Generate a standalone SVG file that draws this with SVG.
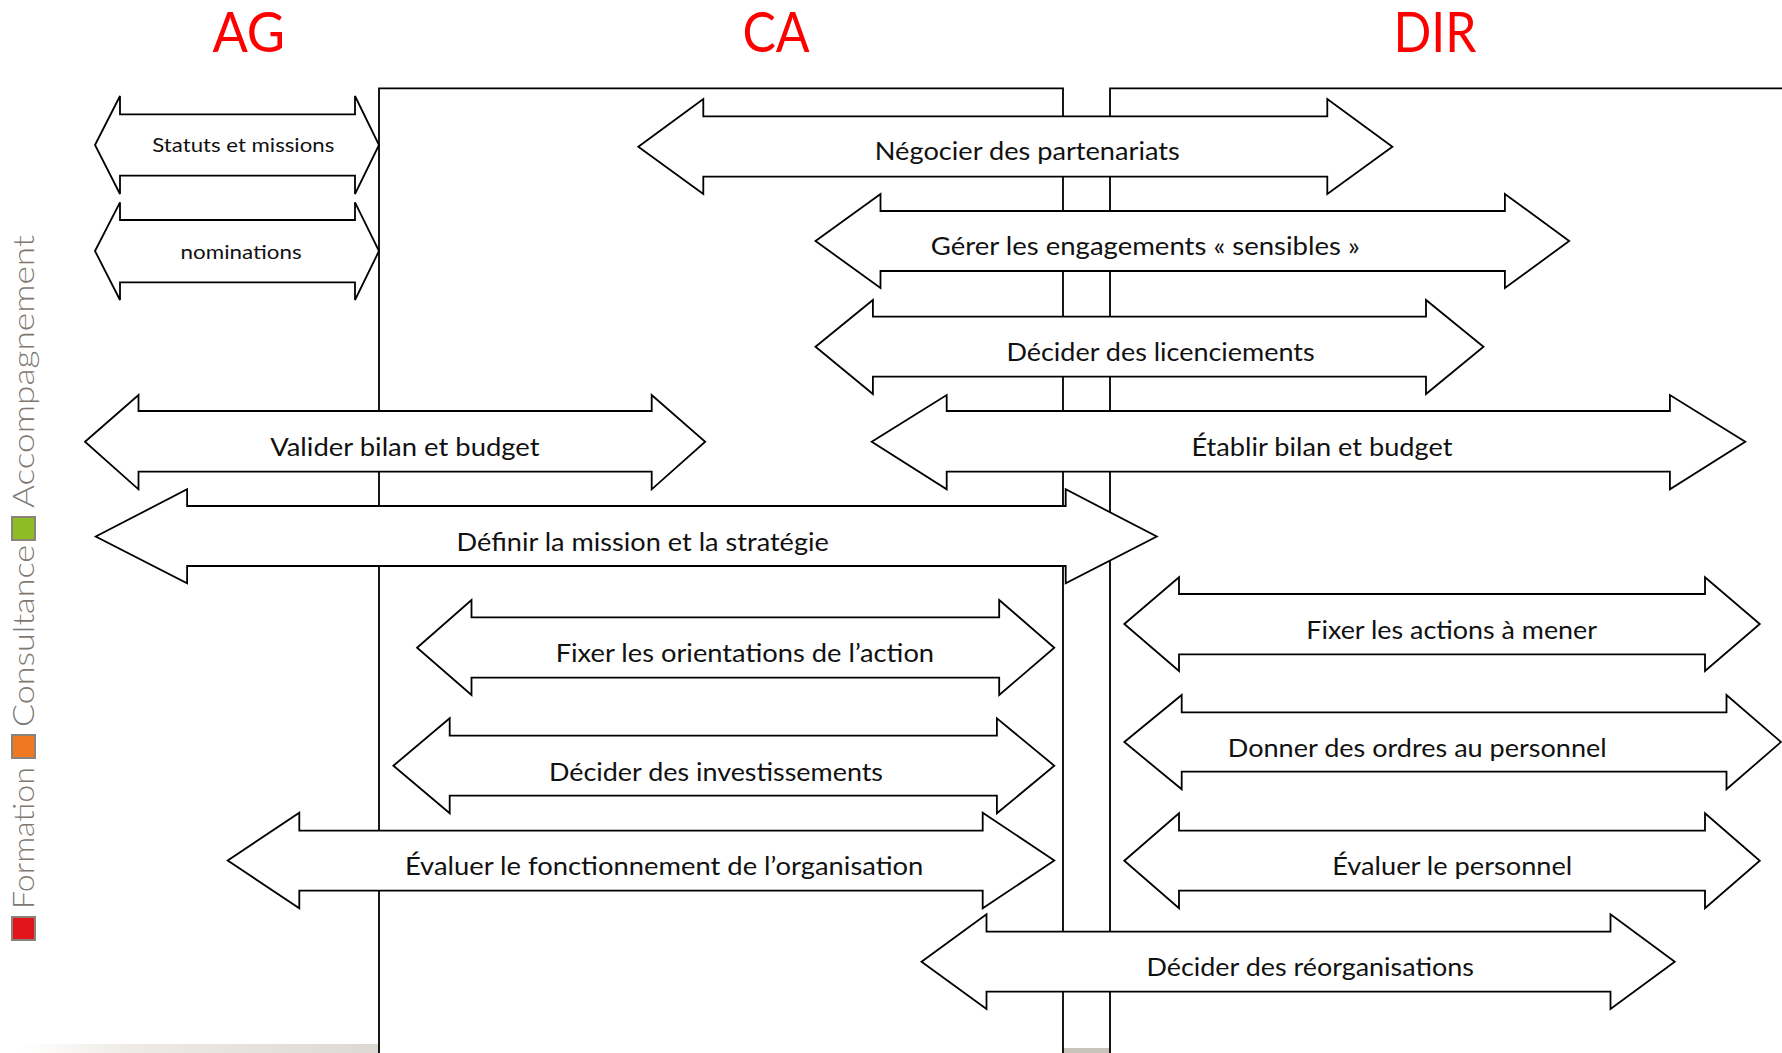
<svg xmlns="http://www.w3.org/2000/svg" width="1782" height="1053" viewBox="0 0 1782 1053">
  <defs>
    <style>
      .lane { stroke: #000; stroke-width: 1.8; fill: none; }
      .arrow { fill: #fff; stroke: #000; stroke-width: 1.8; stroke-linejoin: miter; }
      .lbl { font-family: Lato, "Open Sans", "Liberation Sans", sans-serif; font-size: 25px; fill: #111; }
      .lbl-s { font-family: Lato, "Open Sans", "Liberation Sans", sans-serif; font-size: 20px; fill: #111; }
      .head { font-family: Lato, "Open Sans", "Liberation Sans", sans-serif; font-size: 56px; fill: #ff0000; }
      .leg { font-family: Lato, "Noto Sans", "Liberation Sans", sans-serif; font-weight: 300; font-size: 29px; fill: #7d7873; }
      .sq { stroke: #8a837c; stroke-width: 2; }
    </style>
    <linearGradient id="shadeL" x1="0" y1="0" x2="1" y2="0">
      <stop offset="0" stop-color="#ffffff"/>
      <stop offset="0.3" stop-color="#eeebe6"/>
      <stop offset="1" stop-color="#dcd8d3"/>
    </linearGradient>
  </defs>
  <rect x="0" y="0" width="1782" height="1053" fill="#fff"/>

  <!-- bottom shading -->
  <rect x="20" y="1044" width="359" height="9" fill="url(#shadeL)"/>
  <rect x="1063" y="1048" width="47" height="5" fill="#c9c2ba"/>

  <!-- headings -->
  <g id="headings">
    <text class="head" x="212.4" y="51.7" textLength="72.7" lengthAdjust="spacingAndGlyphs">AG</text>
    <text class="head" x="742.4" y="51.7" textLength="67.3" lengthAdjust="spacingAndGlyphs">CA</text>
    <text class="head" x="1393.5" y="51.7" textLength="83" lengthAdjust="spacingAndGlyphs">DIR</text>
  </g>

  <!-- lanes (frame lines) -->
  <g id="lanes">
    <polyline class="lane" points="379,1053 379,88.3 1063,88.3 1063,1053"/>
    <polyline class="lane" points="1110,1053 1110,88.3 1782,88.3"/>
  </g>

  <!-- legend -->
  <g id="legend" transform="translate(0,941) rotate(-90)">
    <rect class="sq" x="1" y="12" width="23" height="23" fill="#e3141c"/>
    <text class="leg" x="32" y="34" textLength="142" lengthAdjust="spacingAndGlyphs">Formation</text>
    <rect class="sq" x="183" y="12" width="23" height="23" fill="#f07820"/>
    <text class="leg" x="214" y="34" textLength="182" lengthAdjust="spacingAndGlyphs">Consultance</text>
    <rect class="sq" x="401" y="12" width="23" height="23" fill="#8cbe23"/>
    <text class="leg" x="433" y="34" textLength="273" lengthAdjust="spacingAndGlyphs">Accompagnement</text>
  </g>

  <!-- arrows -->
  <g id="statuts">
    <polygon class="arrow" points="95,145 120,96 120,114.3 355,114.3 355,96 379,145 355,194 355,175.7 120,175.7 120,194"/>
    <text class="lbl-s" x="152.3" y="151.7" textLength="182" lengthAdjust="spacingAndGlyphs">Statuts et missions</text>
  </g>
  <g id="nominations">
    <polygon class="arrow" points="95,251 120,202.3 120,220 355,220 355,202.3 379,251 355,300 355,282.3 120,282.3 120,300"/>
    <text class="lbl-s" x="180.6" y="259.3" textLength="121" lengthAdjust="spacingAndGlyphs">nominations</text>
  </g>
  <g id="negocier">
    <polygon class="arrow" points="638.3,146.7 703.3,99 703.3,116.3 1327.3,116.3 1327.3,99 1392.4,146.7 1327.3,194 1327.3,176.7 703.3,176.7 703.3,194"/>
    <text class="lbl" x="874.8" y="160" textLength="305" lengthAdjust="spacingAndGlyphs">Négocier des partenariats</text>
  </g>
  <g id="gerer">
    <polygon class="arrow" points="815.5,241 880.5,194 880.5,211 1504.9,211 1504.9,194 1569.2,241 1504.9,288 1504.9,271 880.5,271 880.5,288"/>
    <text class="lbl" x="930.7" y="255" textLength="429.2" lengthAdjust="spacingAndGlyphs">Gérer les engagements « sensibles »</text>
  </g>
  <g id="licenciements">
    <polygon class="arrow" points="815.5,346.7 872.9,300 872.9,316.7 1426,316.7 1426,300 1483.5,346.7 1426,394 1426,376.7 872.9,376.7 872.9,394"/>
    <text class="lbl" x="1006.4" y="360.7" textLength="308.3" lengthAdjust="spacingAndGlyphs">Décider des licenciements</text>
  </g>
  <g id="etablir">
    <polygon class="arrow" points="871.7,441.7 946.7,395 946.7,411 1669.9,411 1669.9,395 1745.3,441.7 1669.9,489.3 1669.9,471.7 946.7,471.7 946.7,489.3"/>
    <text class="lbl" x="1191.5" y="455.5" textLength="261" lengthAdjust="spacingAndGlyphs">Établir bilan et budget</text>
  </g>
  <g id="valider">
    <polygon class="arrow" points="85,441.7 138.5,395 138.5,411 651.7,411 651.7,395 705.2,441.7 651.7,489.3 651.7,471.7 138.5,471.7 138.5,489.3"/>
    <text class="lbl" x="270.2" y="455.5" textLength="269.4" lengthAdjust="spacingAndGlyphs">Valider bilan et budget</text>
  </g>
  <g id="definir">
    <polygon class="arrow" points="95.7,536.5 187.1,489.3 187.1,506 1065.7,506 1065.7,489.3 1156.8,536.5 1065.7,583.3 1065.7,566 187.1,566 187.1,583.3"/>
    <text class="lbl" x="456.6" y="551" textLength="372.3" lengthAdjust="spacingAndGlyphs">Définir la mission et la stratégie</text>
  </g>
  <g id="orientations">
    <polygon class="arrow" points="417.1,647.7 471.5,600 471.5,617.3 999.2,617.3 999.2,600 1054.3,647.7 999.2,695 999.2,677.7 471.5,677.7 471.5,695"/>
    <text class="lbl" x="555.7" y="661.5" textLength="378.4" lengthAdjust="spacingAndGlyphs">Fixer les orientations de l’action</text>
  </g>
  <g id="investissements">
    <polygon class="arrow" points="393.4,765.7 449.7,718.3 449.7,735.7 996.9,735.7 996.9,718.3 1054.3,765.7 996.9,813.3 996.9,795.7 449.7,795.7 449.7,813.3"/>
    <text class="lbl" x="549" y="781" textLength="334" lengthAdjust="spacingAndGlyphs">Décider des investissements</text>
  </g>
  <g id="evaluer-fonctionnement">
    <polygon class="arrow" points="227.7,860.5 299.3,812.7 299.3,830.7 982.7,830.7 982.7,812.7 1054.3,860.5 982.7,908.3 982.7,890.7 299.3,890.7 299.3,908.3"/>
    <text class="lbl" x="404.9" y="875.3" textLength="518.5" lengthAdjust="spacingAndGlyphs">Évaluer le fonctionnement de l’organisation</text>
  </g>
  <g id="reorganisations">
    <polygon class="arrow" points="921.5,961.7 986.5,914.3 986.5,931.7 1610.5,931.7 1610.5,914.3 1674.8,961.7 1610.5,1009 1610.5,991.7 986.5,991.7 986.5,1009"/>
    <text class="lbl" x="1146.5" y="976" textLength="327.4" lengthAdjust="spacingAndGlyphs">Décider des réorganisations</text>
  </g>
  <g id="actions">
    <polygon class="arrow" points="1124.3,624 1179,577.3 1179,594 1705,594 1705,577.3 1759.8,624 1705,671 1705,654.3 1179,654.3 1179,671"/>
    <text class="lbl" x="1306.3" y="638.8" textLength="290.8" lengthAdjust="spacingAndGlyphs">Fixer les actions à mener</text>
  </g>
  <g id="ordres">
    <polygon class="arrow" points="1124.3,742 1181.7,695 1181.7,712.3 1726.5,712.3 1726.5,695 1781,742 1726.5,789.3 1726.5,771.7 1181.7,771.7 1181.7,789.3"/>
    <text class="lbl" x="1227.8" y="756.5" textLength="378.9" lengthAdjust="spacingAndGlyphs">Donner des ordres au personnel</text>
  </g>
  <g id="evaluer-personnel">
    <polygon class="arrow" points="1124.3,860.7 1179,813.3 1179,830.7 1705,830.7 1705,813.3 1759.8,860.7 1705,908.3 1705,890.7 1179,890.7 1179,908.3"/>
    <text class="lbl" x="1332.3" y="875.3" textLength="240" lengthAdjust="spacingAndGlyphs">Évaluer le personnel</text>
  </g>
</svg>
